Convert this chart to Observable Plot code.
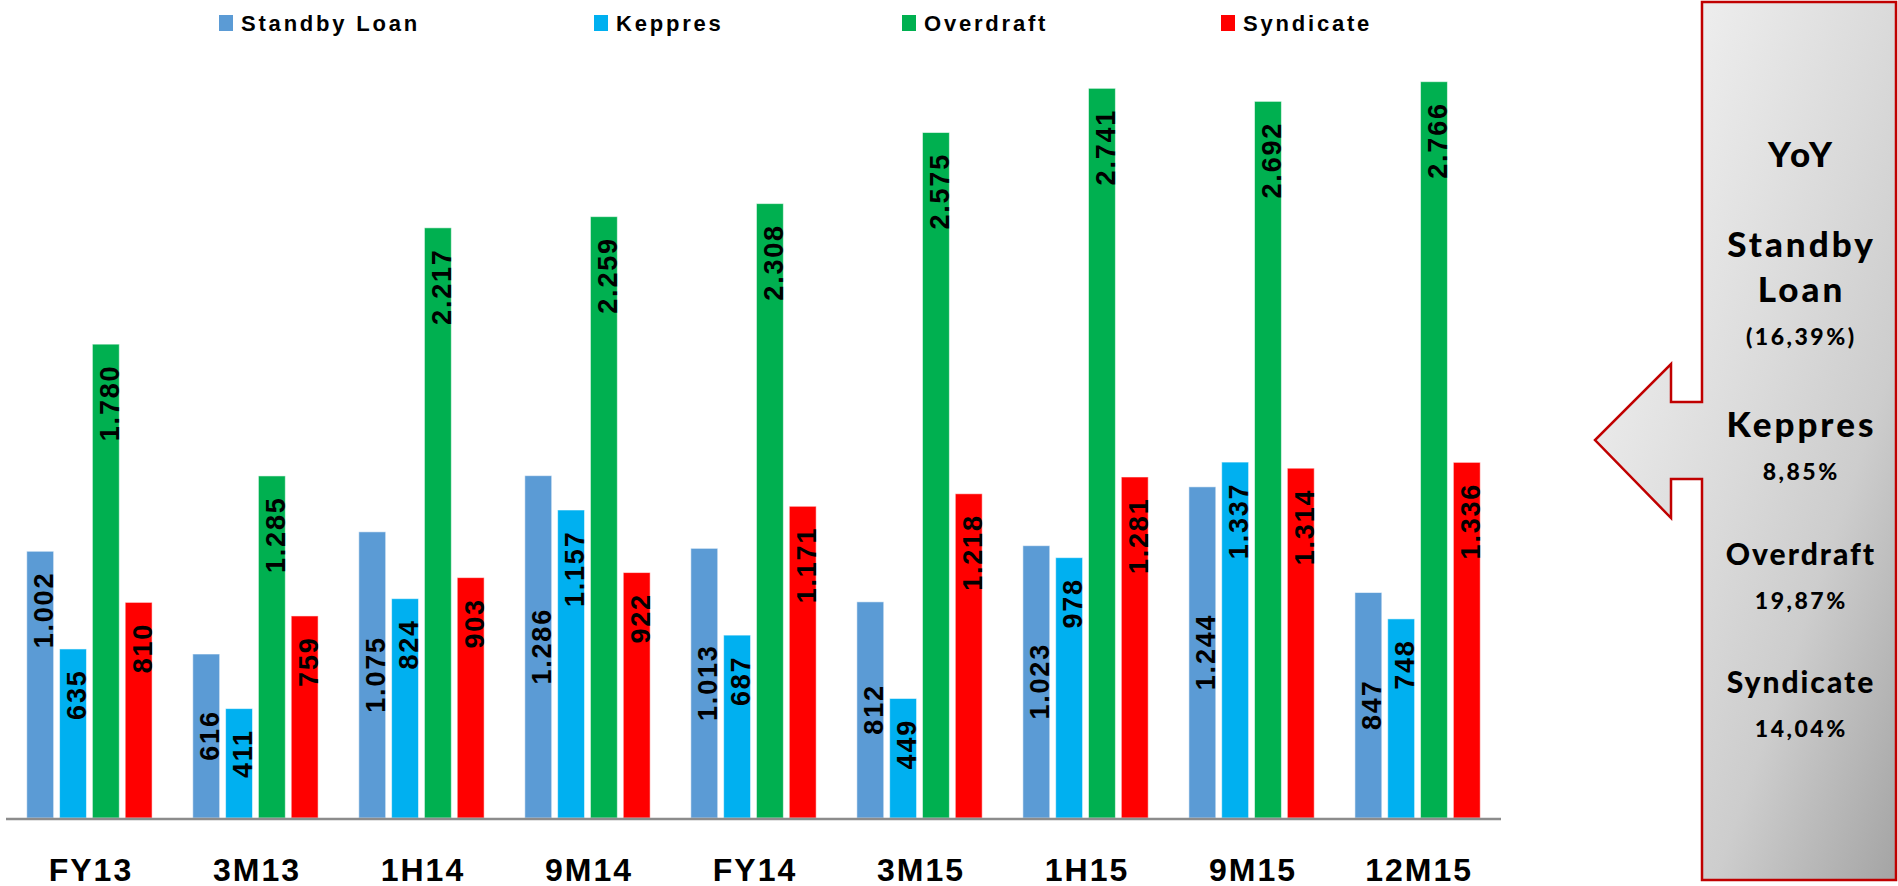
<!DOCTYPE html>
<html>
<head>
<meta charset="utf-8">
<script src="https://cdn.jsdelivr.net/npm/d3@7"></script>
<script src="https://cdn.jsdelivr.net/npm/@observablehq/plot@0.6"></script>
<style>
  html, body { margin: 0; padding: 0; background: #fff; }
  #page { position: relative; width: 1898px; height: 886px; overflow: hidden; }
  #legend, #chart, #chart svg { display: block; }
  #panel { position: absolute; left: 0; top: 0; }
  #chart g[font-size="27"] text { letter-spacing: 1.8px; }
  #chart g[font-size="32"] text { letter-spacing: 2px; }
</style>
</head>
<body>
<div id="page">
  <svg id="legend" width="1898" height="45"></svg>
  <div id="chart"></div>
  <svg id="panel" width="1898" height="886"></svg>
</div>
<script>
// Reporting periods and product series
const periods = ["FY13", "3M13", "1H14", "9M14", "FY14", "3M15", "1H15", "9M15", "12M15"];
const seriesNames = ["Standby Loan", "Keppres", "Overdraft", "Syndicate"];
const seriesColors = ["#5b9bd5", "#00b0f0", "#00b050", "#ff0000"];

// Values per series, one per period
const standbyLoan = [1002, 616, 1075, 1286, 1013, 812, 1023, 1244, 847];
const keppres     = [635, 411, 824, 1157, 687, 449, 978, 1337, 748];
const overdraft   = [1780, 1285, 2217, 2259, 2308, 2575, 2741, 2692, 2766];
const syndicate   = [810, 759, 903, 922, 1171, 1218, 1281, 1314, 1336];

// Year-on-year summary
const yoyTitle = "YoY";
const yoyChanges = ["(16,39%)", "8,85%", "19,87%", "14,04%"];

const valuesBySeries = [standbyLoan, keppres, overdraft, syndicate];
const rows = periods.flatMap((period, i) =>
  seriesNames.map((series, j) => ({period, series, value: valuesBySeries[j][i]}))
);

const fmt = d3.formatLocale({decimal: ",", thousands: ".", grouping: [3], currency: ["", ""]}).format(",d");
// Standby Loan labels sit mid-bar after the first period; all others sit inside the bar end
const centered = d => d.series === seriesNames[0] && d.period !== periods[0];

const W = 1898, H = 841;
const left = 6, right = 1501, bottom = 68;
const labelFont = "'Liberation Sans', Arial, Helvetica, sans-serif";

const chart = Plot.plot({
  width: W,
  height: H,
  marginLeft: left,
  marginRight: W - right,
  marginTop: 1,
  marginBottom: bottom,
  style: {fontFamily: labelFont, background: "transparent", overflow: "visible"},
  facet: {data: rows, x: "period"},
  fx: {domain: periods, paddingInner: 0.245, paddingOuter: 0.125, round: false, axis: null, label: null},
  x: {domain: seriesNames, paddingInner: 0.18, paddingOuter: 0, round: false, axis: null},
  y: {domain: [0, 2900], axis: null},
  color: {domain: seriesNames, range: seriesColors},
  marks: [
    Plot.barY(rows, {x: "series", y: "value", fill: "series", stroke: "white", strokeOpacity: 0.55, strokeWidth: 1}),
    Plot.text(rows, {
      filter: d => !centered(d), x: "series", y: "value", text: d => fmt(d.value),
      rotate: -90, textAnchor: "end", dx: 4, dy: 20,
      fontSize: 27, fontWeight: "bold", fill: "#000"
    }),
    Plot.text(rows, {
      filter: centered, x: "series", y: d => d.value / 2, text: d => fmt(d.value),
      rotate: -90, textAnchor: "middle", dx: 4, dy: -1,
      fontSize: 27, fontWeight: "bold", fill: "#000"
    }),
    Plot.text(rows, {
      filter: d => d.series === seriesNames[1], frameAnchor: "bottom", text: "period",
      lineAnchor: "bottom", dx: 1, dy: 62,
      fontSize: 32, fontWeight: "bold", fill: "#000"
    })
  ]
});
document.getElementById("chart").append(chart);

// Category axis baseline spanning all groups
const svg = d3.select(chart.tagName.toLowerCase() === "svg" ? chart : chart.querySelector("svg"));
svg.append("line")
  .attr("x1", left).attr("x2", right)
  .attr("y1", H - bottom + 1).attr("y2", H - bottom + 1)
  .attr("stroke", "#8c8c8c").attr("stroke-width", 2.5);

// Legend row
const legendX = [219, 594, 902, 1221];
const legend = d3.select("#legend");
seriesNames.forEach((name, i) => {
  legend.append("rect")
    .attr("x", legendX[i]).attr("y", 15).attr("width", 14).attr("height", 16)
    .attr("fill", seriesColors[i]);
  legend.append("text")
    .attr("x", legendX[i] + 22).attr("y", 31)
    .attr("font-family", labelFont).attr("font-weight", "bold").attr("font-size", 22)
    .attr("letter-spacing", "2.8px").attr("fill", "#000")
    .text(name);
});

// YoY callout arrow on the right
const panel = d3.select("#panel");
const grad = panel.append("defs").append("linearGradient")
  .attr("id", "calloutFill").attr("x1", 0).attr("y1", 0).attr("x2", 1).attr("y2", 1);
[[0, "#f8f8f8"], [0.5, "#dadada"], [0.7, "#cdcdcd"], [1, "#a4a4a4"]].forEach(([o, c]) =>
  grad.append("stop").attr("offset", o).attr("stop-color", c));

panel.append("path")
  .attr("d", "M1702,2 H1896 V880 H1702 V479 H1671 V518 L1595,440 L1671,364 V402 H1702 Z")
  .attr("fill", "url(#calloutFill)")
  .attr("stroke", "#c00000").attr("stroke-width", 2.5).attr("stroke-linejoin", "miter");

const panelFont = "Lato, 'Open Sans', sans-serif";
const cx = 1800;
const panelLines = [
  {text: yoyTitle, y: 167, size: 35, ls: 3},
  {text: seriesNames[0].split(" ")[0], y: 257, size: 35, ls: 3},
  {text: seriesNames[0].split(" ")[1], y: 302, size: 35, ls: 3},
  {text: yoyChanges[0], y: 345, size: 23, ls: 2.5},
  {text: seriesNames[1], y: 437, size: 35, ls: 3},
  {text: yoyChanges[1], y: 480, size: 23, ls: 2.5},
  {text: seriesNames[2], y: 565, size: 30, ls: 2},
  {text: yoyChanges[2], y: 609, size: 23, ls: 2.5},
  {text: seriesNames[3], y: 693, size: 30, ls: 2},
  {text: yoyChanges[3], y: 737, size: 23, ls: 2.5}
];
panelLines.forEach(l => {
  panel.append("text")
    .attr("x", cx + l.ls / 2).attr("y", l.y)
    .attr("text-anchor", "middle")
    .attr("font-family", panelFont).attr("font-weight", 900).attr("font-size", l.size)
    .attr("letter-spacing", l.ls + "px").attr("fill", "#000")
    .text(l.text);
});
</script>
</body>
</html>
